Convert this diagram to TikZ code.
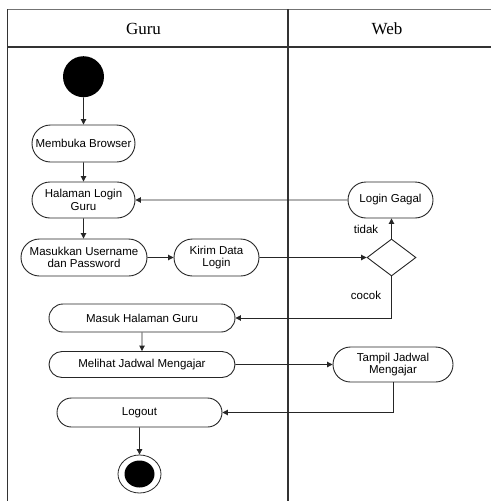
\documentclass[tikz,border=0pt]{standalone}
\usepackage{fontspec}
\setmainfont{Liberation Serif}
\newfontfamily\nodefont{Liberation Sans}
\usetikzlibrary{shapes.misc,shapes.geometric,arrows.meta}
\tikzset{
  act/.style={rounded rectangle, draw=black!85, line width=0.9pt, inner sep=0pt,
    align=center, font=\nodefont\fontsize{11.5}{12.5}\selectfont},
  lbl/.style={inner sep=0pt, font=\nodefont\fontsize{11.5}{12.5}\selectfont},
  head/.style={inner sep=0pt, font=\fontsize{17}{19}\selectfont},
  flow/.style={draw=black!85, line width=0.9pt, -{Triangle[length=5.5pt,width=5.5pt]}},
  lane/.style={draw=black!80, line width=1.1pt}
}
\begin{document}
\begin{tikzpicture}[x=1pt,y=-1pt]
\useasboundingbox (0,0) rectangle (491,501);
% swimlane frame
\coordinate (tl) at (7.5,9.3);
\coordinate (tr) at (491,9.3);
\coordinate (hl) at (7.5,47);
\coordinate (hr) at (491,47);
\coordinate (bl) at (7.5,501);
\coordinate (dt) at (288,9.3);
\coordinate (db) at (288,501);
\draw[draw=black!55, line width=1pt] (tl) -- (tr);
\draw[lane, line width=1.4pt] (hl) -- (hr);
\draw[lane] (tl) -- (bl);
\draw[lane, line width=1.5pt] (dt) -- (db);
\node[head] (hguru) at (143.5,29) {Guru};
\node[head] (hweb) at (387,29) {Web};
% nodes
\node[circle, fill=black, minimum size=41pt, inner sep=0pt] (start) at (83.5,76.7) {};
\node[act, minimum width=103pt, minimum height=37pt] (browser) at (83.5,143.5) {Membuka Browser};
\node[act, minimum width=103pt, minimum height=36pt] (hlogin) at (83.5,200) {Halaman Login\\Guru};
\node[act, minimum width=126pt, minimum height=37pt] (masuk) at (84,257.5) {Masukkan Username\\dan Password};
\node[act, minimum width=85pt, minimum height=37pt] (kirim) at (216.5,257.5) {Kirim Data\\Login};
\node[act, minimum width=85pt, minimum height=36pt] (gagal) at (390.5,200) {Login Gagal};
\node[diamond, draw=black!85, line width=0.9pt, minimum width=49pt, minimum height=37pt, inner sep=0pt] (dec) at (391.5,257.5) {};
\node[lbl] (tidak) at (366,229) {tidak};
\node[lbl] (cocok) at (366,295) {cocok};
\node[act, minimum width=186pt, minimum height=28pt] (mhg) at (142,318) {Masuk Halaman Guru};
\node[act, minimum width=186pt, minimum height=26pt] (melihat) at (142,364.5) {Melihat Jadwal Mengajar};
\node[act, minimum width=120pt, minimum height=35pt] (tampil) at (393,364.5) {Tampil Jadwal\\Mengajar};
\node[act, minimum width=165pt, minimum height=29pt] (logout) at (139.5,412.5) {Logout};
\node[ellipse, draw=black!85, line width=0.8pt, minimum width=43pt, minimum height=38pt, inner sep=0pt] (end) at (139.5,474) {};
\node[ellipse, fill=black, minimum width=30pt, minimum height=27pt, inner sep=0pt] (endin) at (139.5,474) {};
% connectors
\draw[flow] (start) -- (browser);
\draw[flow] (browser) -- (hlogin);
\draw[flow] (hlogin) -- (hlogin |- masuk.north);
\draw[flow] (masuk) -- (kirim);
\draw[flow] (kirim) -- (dec);
\draw[flow] (dec.north) -- (dec.north |- gagal.south);
\draw[flow] (gagal) -- (hlogin);
\draw[flow] (dec.south) |- (mhg.east);
\draw[flow] (mhg) -- (melihat);
\draw[flow] (melihat) -- (tampil);
\draw[flow] (tampil.south) |- (logout.east);
\draw[flow] (logout) -- (end);
\end{tikzpicture}
\end{document}
